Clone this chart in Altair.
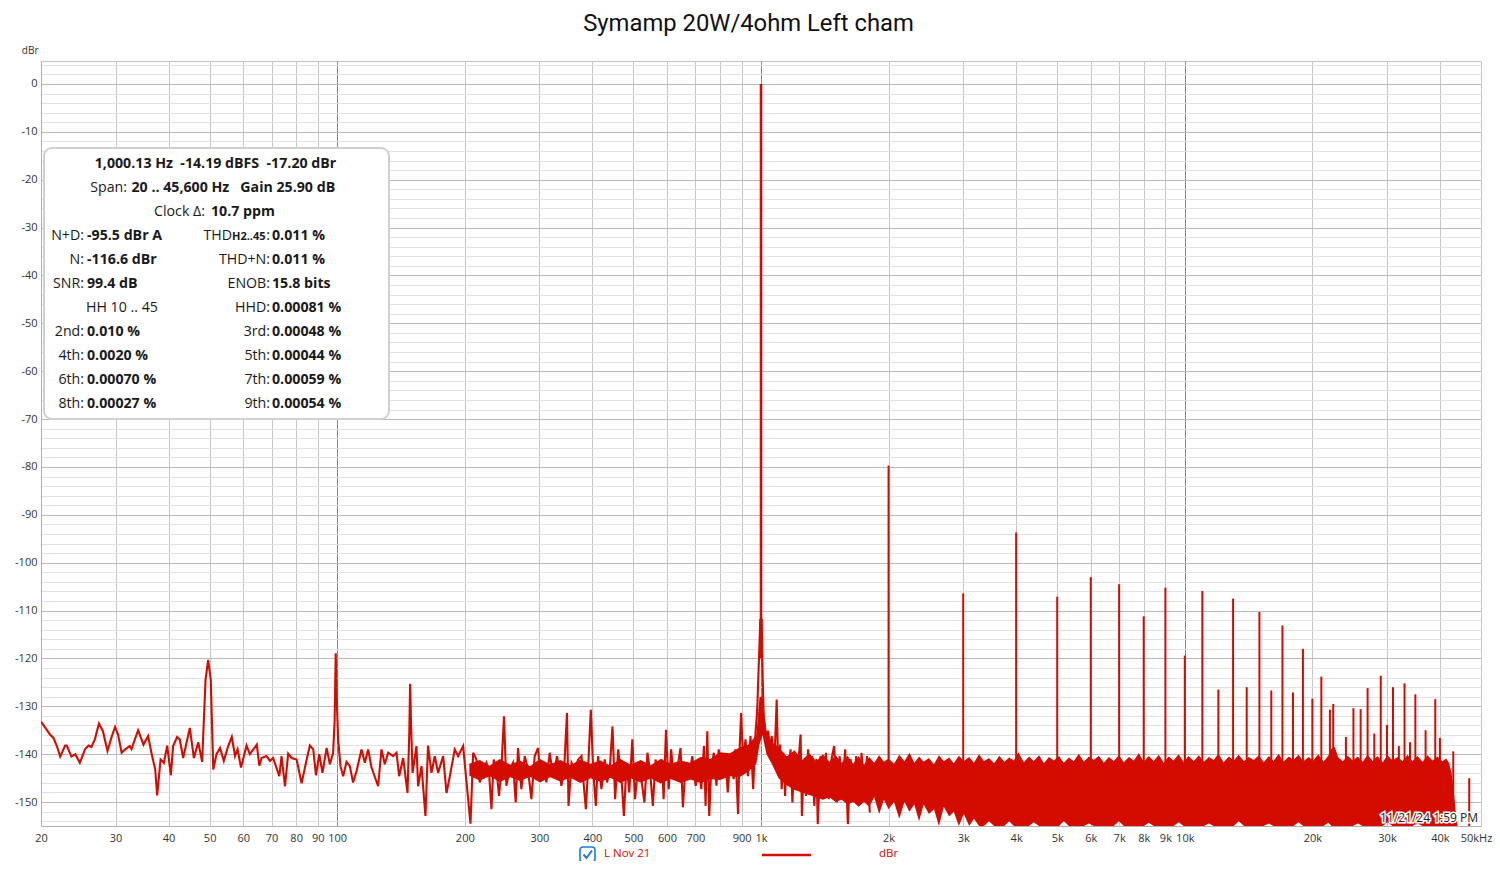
import altair as alt
import pandas as pd

RED = "#d40c00"
INK = "#1a1a1a"
FONT = "Open Sans"

# ---------------- spectrum trace (Hz, dBr) ----------------
trace_freq = [
    20.0, 20.6, 21.0, 21.4, 21.8, 22.2, 22.8, 23.0, 23.6, 24.1, 24.7, 25.4, 25.9, 26.3, 26.8,
    27.4, 28.0, 28.7, 29.4, 29.9, 30.4, 31.0, 31.6, 32.4, 32.7, 33.9, 34.9, 35.8, 36.5, 37.2,
    37.6, 38.3, 39.0, 39.7, 40.5, 41.0, 41.9, 42.5, 43.3, 44.1, 44.9, 45.9, 47.0, 48.0, 48.9,
    49.6, 50.3, 51.0, 51.9, 52.9, 54.0, 55.3, 56.4, 57.4, 58.2, 59.3, 61.1, 62.2, 63.4, 64.6,
    65.5, 66.3, 68.1, 69.4, 70.6, 73.0, 73.9, 75.3, 76.6, 78.1, 80.2, 82.4, 84.7, 86.2, 87.8,
    89.1, 90.7, 92.3, 94.4, 96.1, 97.8, 98.6, 99.2, 99.7, 100.5, 101.8, 103.3, 105.2, 107.1, 109.0,
    111.1, 114.1, 116.2, 118.3, 120.5, 124.9, 127.2, 129.5, 131.9, 135.5, 138.0, 140.0, 143.1, 146.5, 147.9,
    148.6, 149.4, 150.6, 153.8, 155.2, 158.1, 161.5, 163.8, 166.9, 169.9, 173.0, 177.8, 181.1, 184.4, 189.4,
    192.9, 198.2, 201.9, 206.3, 209.3, 213.1, 217.0, 220.9, 225.0, 228.2, 231.2, 234.1, 237.5, 240.9, 243.9,
    247.5, 250.7, 255.3, 259.9, 263.7, 267.1, 272.0, 277.0, 282.0, 287.2, 292.4, 297.8, 301.6, 307.1, 311.6,
    317.3, 323.1, 330.2, 338.1, 343.1, 348.5, 351.4, 357.2, 363.7, 370.3, 377.1, 381.9, 386.1, 391.1, 396.7,
    401.7, 407.6, 412.7, 420.2, 427.9, 433.3, 439.7, 446.2, 452.7, 460.2, 468.7, 474.7, 481.7, 488.8, 497.0,
    504.4, 513.6, 523.1, 530.8, 539.6, 547.6, 555.7, 564.0, 573.2, 583.8, 589.1, 596.8, 605.7, 613.6, 622.7,
    634.2, 645.8, 654.1, 663.8, 676.0, 688.4, 701.1, 714.0, 723.1, 733.4, 740.0, 746.8, 754.8, 762.9, 773.9,
    785.0, 794.6, 809.2, 824.0, 834.6, 846.5, 862.1, 869.9, 882.8, 890.9, 897.5, 907.5, 919.3, 931.2, 944.6,
    958.4, 970.7, 979.7, 985.0, 991.0, 996.0, 1004.0, 1008.0, 1015.0, 1022.0, 1031.0, 1040.0, 1050.0, 1060.0, 1069.0,
    1079.0, 1089.0, 1099.0, 1109.0, 1119.0, 1129.0, 1140.0, 1150.0, 1161.0, 1174.0, 1186.0, 1200.0, 1213.0, 1227.0, 1240.0,
    1249.0, 1263.0, 1277.0, 1292.0, 1306.0, 1321.0, 1336.0, 1351.0, 1361.0, 1382.0, 1403.0, 1423.0, 1445.0, 1467.0, 1488.0,
    1510.0, 1533.0, 1556.0, 1580.0, 1603.0, 1627.0, 1652.0, 1677.0, 1701.0, 1727.0, 1753.0, 1779.0, 1806.0,
]
trace_db = [
    -133.2, -134.8, -135.9, -136.6, -138.3, -140.5, -138.2, -138.2, -140.5, -140.0, -141.8, -139.0, -138.2, -138.5, -136.9,
    -133.6, -135.2, -139.3, -136.2, -134.3, -135.9, -139.7, -139.0, -138.3, -138.9, -135.0, -138.0, -136.2, -140.0, -143.2,
    -148.6, -141.1, -141.8, -138.2, -144.4, -138.3, -136.4, -136.9, -140.8, -137.6, -134.5, -140.8, -137.5, -141.6, -124.4,
    -120.3, -124.4, -143.2, -140.0, -138.7, -141.4, -138.3, -136.4, -140.4, -139.0, -142.8, -138.2, -140.0, -139.0, -138.0,
    -142.4, -140.8, -140.4, -141.4, -140.8, -144.6, -140.4, -146.7, -139.9, -140.8, -141.1, -146.1, -141.1, -138.2, -139.0,
    -144.4, -140.0, -143.9, -138.7, -142.1, -139.7, -133.0, -118.9, -128.0, -136.9, -142.5, -144.6, -141.6, -142.5, -145.9,
    -143.5, -139.0, -141.8, -139.0, -142.8, -146.7, -139.0, -142.1, -139.7, -140.4, -139.7, -144.6, -140.8, -148.1, -136.0,
    -125.3, -134.0, -143.9, -138.3, -146.7, -142.5, -152.9, -138.2, -143.9, -140.4, -143.9, -140.4, -148.1, -144.6, -139.0,
    -140.4, -138.3, -145.9, -154.5, -139.7, -141.1, -145.9, -143.2, -141.8, -143.9, -151.5, -141.1, -143.2, -148.7, -143.2,
    -132.1, -146.6, -143.2, -141.8, -150.1, -138.7, -147.3, -140.4, -143.2, -149.4, -140.4, -138.7, -145.2, -142.5, -145.9,
    -139.7, -144.6, -140.4, -146.6, -143.2, -131.4, -150.8, -141.8, -143.2, -141.1, -140.4, -146.6, -151.5, -142.5, -130.7,
    -143.2, -150.8, -140.4, -147.3, -141.1, -145.9, -143.2, -134.2, -149.4, -139.0, -145.2, -152.9, -141.8, -148.0, -136.9,
    -149.4, -141.8, -145.9, -150.1, -139.7, -143.9, -150.8, -141.1, -145.2, -141.1, -149.4, -134.9, -147.3, -139.0, -145.2,
    -143.2, -138.7, -151.1, -142.5, -145.2, -140.4, -146.6, -142.5, -147.3, -138.3, -150.8, -135.2, -152.9, -143.2, -139.7,
    -146.6, -139.0, -144.6, -140.0, -148.0, -140.4, -145.2, -139.0, -152.5, -138.3, -131.4, -141.8, -136.9, -144.6, -136.2,
    -147.3, -135.5, -130.7, -124.5, -118.0, -112.0, -112.0, -122.0, -132.7, -134.8, -137.6, -135.1, -139.0, -136.2, -141.0,
    -138.3, -128.6, -144.5, -138.0, -147.3, -139.7, -148.7, -140.4, -145.9, -139.0, -150.1, -140.4, -147.3, -141.0, -135.9,
    -152.9, -141.0, -148.7, -139.0, -147.3, -140.4, -150.8, -141.0, -154.6, -140.4, -148.7, -139.7, -149.4, -141.0, -138.3,
    -150.1, -140.4, -147.3, -139.0, -154.6, -141.0, -148.7, -140.4, -150.8, -139.7, -148.7, -140.4, -152.2,
]

# ---------------- noise floor core below 1.8 kHz: upper / lower edge (Hz, dBr) ----------------
low_band_freq = [
    205, 217, 229, 242, 256, 270, 285, 301, 318, 336, 355, 375, 396, 418, 441,
    466, 492, 520, 549, 580, 612, 646, 682, 720, 760, 800, 845, 890, 935, 975,
    992, 1008, 1030, 1060, 1100, 1150, 1200, 1250, 1300, 1350, 1400, 1450, 1500, 1550, 1600,
    1650, 1700, 1750,
]
low_band_hi = [
    -142.0, -141.2, -142.4, -141.0, -142.2, -141.3, -142.5, -141.0, -142.1, -141.2, -142.3, -141.1, -142.0, -141.3, -142.4,
    -141.0, -142.2, -141.2, -142.3, -141.0, -142.0, -141.3, -141.8, -140.6, -141.0, -139.6, -139.8, -138.6, -138.0, -136.0,
    -128.0, -128.0, -135.0, -137.5, -138.5, -140.5, -139.2, -141.2, -139.8, -141.5, -140.0, -141.6, -140.2, -141.8, -140.3,
    -142.0, -140.4, -142.2,
]
low_band_lo = [
    -144.5, -145.5, -144.6, -145.8, -144.8, -145.6, -144.7, -145.9, -144.8, -145.7, -144.9, -146.0, -145.0, -145.8, -144.9,
    -146.0, -145.0, -145.9, -145.1, -146.1, -145.2, -146.0, -145.3, -146.0, -145.2, -145.4, -144.6, -144.8, -143.6, -142.0,
    -138.0, -136.0, -140.0, -142.0, -145.0, -146.5, -147.5, -148.0, -148.5, -149.0, -149.5, -149.0, -150.0, -149.5, -150.5,
    -150.0, -151.0, -150.0,
]

# ---------------- dense noise floor 1.8 kHz .. 44 kHz: upper / lower edge (Hz, dBr) ----------------
high_band_freq = [
    1800, 1850, 1900, 1950, 2000, 2060, 2120, 2180, 2240, 2300,
    2360, 2420, 2490, 2560, 2630, 2700, 2780, 2850, 2930, 3010,
    3100, 3180, 3270, 3360, 3450, 3550, 3650, 3750, 3850, 3950,
    4050, 4170, 4290, 4400, 4530, 4650, 4780, 4910, 5050, 5180,
    5330, 5470, 5620, 5780, 5940, 6100, 6270, 6440, 6620, 6800,
    6990, 7180, 7380, 7580, 7790, 8000, 8220, 8450, 8680, 8920,
    9160, 9410, 9670, 9940, 10200, 10500, 10800, 11100, 11400, 11700,
    12000, 12350, 12700, 13050, 13400, 13800, 14150, 14550, 14950, 15350,
    15800, 16200, 16650, 17100, 17600, 18050, 18550, 19050, 19600, 20100,
    20650, 21250, 21800, 22200, 22600, 23000, 23600, 24250, 24900, 25600,
    26300, 27000, 27750, 28500, 29300, 30100, 30900, 31800, 32650, 33550,
    34450, 35400, 36400, 37400, 38400, 39500, 40550, 41400, 42000, 42600,
    43200, 43600, 44000,
]
high_band_hi = [
    -140.6, -141.8, -140.2, -141.6, -140.9, -142.0, -140.1, -141.5, -139.7, -141.8,
    -140.5, -141.6, -140.8, -142.1, -140.2, -141.5, -140.7, -141.9, -140.3, -141.4,
    -140.6, -141.8, -140.0, -141.5, -140.8, -141.9, -140.3, -141.6, -140.7, -141.3,
    -139.6, -141.7, -140.5, -141.4, -140.2, -141.9, -140.6, -141.3, -140.4, -141.8,
    -140.7, -141.5, -139.9, -141.6, -140.5, -141.2, -140.3, -141.8, -140.6, -141.4,
    -140.2, -141.7, -140.6, -141.3, -139.8, -141.6, -140.4, -141.4, -140.1, -141.8,
    -140.5, -141.3, -140.0, -141.7, -140.4, -141.4, -140.2, -141.6, -140.6, -141.2,
    -139.9, -141.7, -140.5, -141.3, -140.1, -141.5, -140.6, -141.2, -140.2, -141.7,
    -140.4, -141.4, -139.9, -141.6, -140.5, -141.2, -140.1, -141.5, -140.6, -141.3,
    -140.0, -141.6, -140.3, -138.8, -138.5, -140.6, -141.5, -140.3, -141.3, -140.5,
    -141.6, -140.1, -141.4, -140.4, -141.7, -140.2, -141.3, -140.6, -141.5, -140.1,
    -141.4, -140.4, -141.6, -140.2, -141.3, -140.5, -141.5, -140.9, -141.8, -143.9,
    -148.0, -152.2, -154.8,
]
high_band_lo = [
    -151.0, -149.0, -152.5, -149.5, -151.5, -150.0, -153.5, -150.0, -152.0, -150.5,
    -154.0, -150.5, -152.5, -151.5, -155.0, -151.0, -153.0, -152.0, -155.0, -152.5,
    -155.0, -153.5, -155.0, -155.0, -154.0, -155.0, -155.0, -155.0, -154.0, -155.0,
    -155.0, -155.0, -155.0, -154.2, -155.0, -155.0, -155.0, -155.0, -155.0, -154.0,
    -155.0, -155.0, -155.0, -155.0, -154.5, -155.0, -155.0, -155.0, -155.0, -155.0,
    -154.0, -155.0, -155.0, -155.0, -155.0, -155.0, -154.3, -155.0, -155.0, -155.0,
    -155.0, -155.0, -154.2, -155.0, -155.0, -155.0, -155.0, -155.0, -154.5, -155.0,
    -155.0, -155.0, -155.0, -155.0, -154.0, -155.0, -155.0, -155.0, -155.0, -155.0,
    -154.5, -155.0, -155.0, -155.0, -155.0, -155.0, -154.2, -155.0, -155.0, -155.0,
    -155.0, -155.0, -154.3, -155.0, -155.0, -155.0, -155.0, -155.0, -155.0, -154.5,
    -155.0, -155.0, -155.0, -155.0, -155.0, -154.2, -155.0, -155.0, -155.0, -155.0,
    -155.0, -154.5, -155.0, -155.0, -155.0, -155.0, -155.0, -155.0, -155.0, -155.0,
    -155.0, -155.0, -155.0,
]

# ---------------- discrete tones (Hz, peak dBr) ----------------
fund_freq = [1000.0]
fund_db = [0.0]
harm_freq = [
    2000, 3000, 4000, 5000, 6000, 7000, 8000, 9000, 10000, 11000, 12000, 13000, 14000, 15000, 16000,
    17000, 18000, 19000, 20000, 21000, 22000, 22400, 24000, 25000, 26000, 27000, 28000, 29000, 30000, 31000,
    32000, 33000, 34000, 35000, 37000, 39000, 40000, 43000, 46900,
]
harm_db = [
    -79.7, -106.4, -93.7, -107.1, -103.0, -104.5, -111.2, -105.2, -119.4, -105.9, -126.5, -107.5, -126.0, -110.3, -126.7,
    -113.1, -127.1, -118.0, -128.4, -123.8, -130.7, -129.5, -136.4, -130.4, -130.6, -126.2, -135.7, -123.6, -133.9, -126.0,
    -138.3, -125.2, -137.5, -127.5, -135.0, -128.5, -136.6, -139.4, -145.0,
]
harm_base = [-148.0] * 38 + [-155.0]

# ---------------- axes ----------------
x_ticks = [20, 30, 40, 50, 60, 70, 80, 90, 100, 200, 300, 400, 500, 600, 700, 800, 900,
           1000, 2000, 3000, 4000, 5000, 6000, 7000, 8000, 9000, 10000, 20000, 30000, 40000, 50000]
y_ticks = list(range(-154, 5, 2))

# ---------------- texts ----------------
title_text = "Symamp 20W/4ohm Left cham"
left_labels = ["N+D:", "N:", "SNR:", "", "2nd:", "4th:", "6th:", "8th:"]
left_values = ["-95.5 dBr A", "-116.6 dBr", "\u00a099.4 dB", "", "0.010 %", "0.0020 %", "0.00070 %", "0.00027 %"]
right_labels = ["", "THD+N:", "ENOB:", "HHD:", "3rd:", "5th:", "7th:", "9th:"]
right_values = ["0.011 %", "0.011 %", "15.8 bits", "0.00081 %", "0.00048 %", "0.00044 %", "0.00059 %", "0.00054 %"]

trace_df = pd.DataFrame({"f": trace_freq, "db": trace_db})
band_df = pd.concat([
    pd.DataFrame({"f": low_band_freq, "hi": low_band_hi, "lo": low_band_lo}),
    pd.DataFrame({"f": high_band_freq, "hi": high_band_hi, "lo": high_band_lo}),
], ignore_index=True)
harm_df = pd.DataFrame({"f": harm_freq, "db": harm_db, "base": harm_base})
fund_df = pd.DataFrame({"f": fund_freq, "db": fund_db, "base": [-120.0]})

xs = alt.Scale(type="log", domain=[20, 50000], nice=False)
ys = alt.Scale(domain=[-155, 4.8], nice=False, zero=False)

x_label_expr = ("datum.value == 800 ? '' : datum.value == 50000 ? '50kHz' : "
                "datum.value >= 1000 ? (datum.value / 1000) + 'k' : '' + datum.value")
x_axis = alt.Axis(
    values=x_ticks, labelExpr=x_label_expr, title=None, ticks=False, grid=True,
    gridColor={"condition": {"test": "datum.value == 100 || datum.value == 1000 || datum.value == 10000",
                             "value": "#858585"}, "value": "#c6c6c6"},
    domainColor="#b0b0b0", labelFont=FONT, labelFontSize=11, labelColor="#333333",
    labelPadding=6, labelOverlap=False, labelFlush=False,
    labelOffset={"condition": {"test": "datum.value == 50000", "value": -5}, "value": 0},
)
y_axis = alt.Axis(
    values=y_ticks, labelExpr="datum.value % 10 == 0 ? '' + datum.value : ''",
    title="dBr", titleAngle=0, titleAlign="right", titleBaseline="middle", titleX=-3, titleY=-11,
    titleFont=FONT, titleFontSize=10, titleFontWeight="normal", titleColor="#333333",
    ticks=False, grid=True,
    gridColor={"condition": {"test": "datum.value % 10 == 0", "value": "#bababa"}, "value": "#e2e2e2"},
    domainColor="#b0b0b0", labelFont=FONT, labelFontSize=11, labelColor="#333333",
    labelPadding=4, labelOverlap=False,
)

band = alt.Chart(band_df).mark_area(color=RED, clip=True).encode(
    x=alt.X("f:Q", scale=xs, axis=x_axis), y=alt.Y("hi:Q", scale=ys, axis=y_axis), y2="lo:Q")
trace = alt.Chart(trace_df).mark_line(color=RED, strokeWidth=2.1, clip=True).encode(
    x=alt.X("f:Q", scale=xs, axis=x_axis), y=alt.Y("db:Q", scale=ys, axis=y_axis))
harm = alt.Chart(harm_df).mark_rule(color=RED, strokeWidth=2, clip=True).encode(
    x=alt.X("f:Q", scale=xs, axis=x_axis), y=alt.Y("db:Q", scale=ys, axis=y_axis), y2="base:Q")
fund = alt.Chart(fund_df).mark_rule(color=RED, strokeWidth=2.6, clip=True).encode(
    x=alt.X("f:Q", scale=xs, axis=x_axis), y=alt.Y("db:Q", scale=ys, axis=y_axis), y2="base:Q")

one = pd.DataFrame({"a": [0]})
ROW0, ROWH = 103, 24
FS = 14.2


def txt(s, x, y, align="left", weight="normal", size=FS, color=INK, baseline="middle", font=FONT, **kw):
    return alt.Chart(one).mark_text(
        text=s, align=align, baseline=baseline, font=font, fontSize=size,
        fontWeight=weight, color=color, **kw).encode(x=alt.value(x), y=alt.value(y))


def col(labels, x, align, weight, first_row):
    df = pd.DataFrame({"txt": labels, "row": list(range(len(labels)))})
    df = df[df["txt"] != ""]
    return alt.Chart(df).mark_text(
        align=align, baseline="middle", font=FONT, fontSize=FS, fontWeight=weight, color=INK
    ).transform_calculate(py=f"{ROW0} + {ROWH} * ({first_row} + datum.row)").encode(
        x=alt.value(x), y=alt.Y("py:Q", scale=None, axis=None), text="txt:N")


title = txt(title_text, 707.5, -30.5, align="center", size=23.8, color="#111111",
            baseline="alphabetic", font="Roboto")

box = alt.Chart(one).mark_rect(fill="white", stroke="#d0d0d0", strokeWidth=2, cornerRadius=8).encode(
    x=alt.value(3), x2=alt.value(348), y=alt.value(87), y2=alt.value(358))

info = [
    box,
    txt("1,000.13 Hz\u00a0 -14.19 dBFS\u00a0 -17.20 dBr", 174.5, ROW0, align="center", weight="bold"),
    txt("Span:", 86, ROW0 + ROWH, align="right"),
    txt("20 .. 45,600 Hz\u00a0\u00a0 Gain 25.90 dB", 90.5, ROW0 + ROWH, weight="bold"),
    txt("Clock \u0394:", 164, ROW0 + 2 * ROWH, align="right"),
    txt("10.7 ppm", 170, ROW0 + 2 * ROWH, weight="bold"),
    col(left_labels, 43, "right", "normal", 3),
    col(left_values, 46, "left", "bold", 3),
    txt("HH 10 .. 45", 45, ROW0 + 6 * ROWH),
    col(right_labels, 229, "right", "normal", 3),
    col(right_values, 231, "left", "bold", 3),
    txt("THD", 191, ROW0 + 3 * ROWH, align="right"),
    txt("H2..45", 191, ROW0 + 3 * ROWH + 1, size=11, weight="bold"),
    txt(":", 229, ROW0 + 3 * ROWH, align="right"),
]

stamp = [
    txt("11/21/24 1:59 PM", 1437, 757, align="right", size=12, color="white",
        stroke="white", strokeWidth=3),
    txt("11/21/24 1:59 PM", 1437, 757, align="right", size=12, color="#222222"),
]

# checkbox tick drawn as a short polyline (legend decoration)
tick_df = pd.DataFrame({"px": [542.5, 545.5, 551.0], "py": [793.5, 797.0, 789.5], "o": [0, 1, 2]})
legend = [
    alt.Chart(one).mark_rect(fill="white", stroke="#1f78e0", strokeWidth=1.6, cornerRadius=3).encode(
        x=alt.value(539), x2=alt.value(554), y=alt.value(786), y2=alt.value(801)),
    alt.Chart(tick_df).mark_line(color="#1f78e0", strokeWidth=2).encode(
        x=alt.X("px:Q", scale=None, axis=None), y=alt.Y("py:Q", scale=None, axis=None), order="o:Q"),
    txt("L Nov 21", 563, 793, size=11.5, color=RED),
    alt.Chart(one).mark_rule(color=RED, strokeWidth=2.5).encode(
        x=alt.value(721), x2=alt.value(770), y=alt.value(794)),
    txt("dBr", 838, 793, size=11.5, color=RED),
]

chart = alt.layer(band, trace, harm, fund, *info, *stamp, *legend, title).properties(
    width=1440, height=765,
    autosize=alt.AutoSizeParams(type="none"),
    padding={"left": 33, "top": 53, "right": 11, "bottom": 35},
).configure_view(stroke="#c6c6c6")

chart.save("out.html", embed_options={"renderer": "svg", "actions": False})
